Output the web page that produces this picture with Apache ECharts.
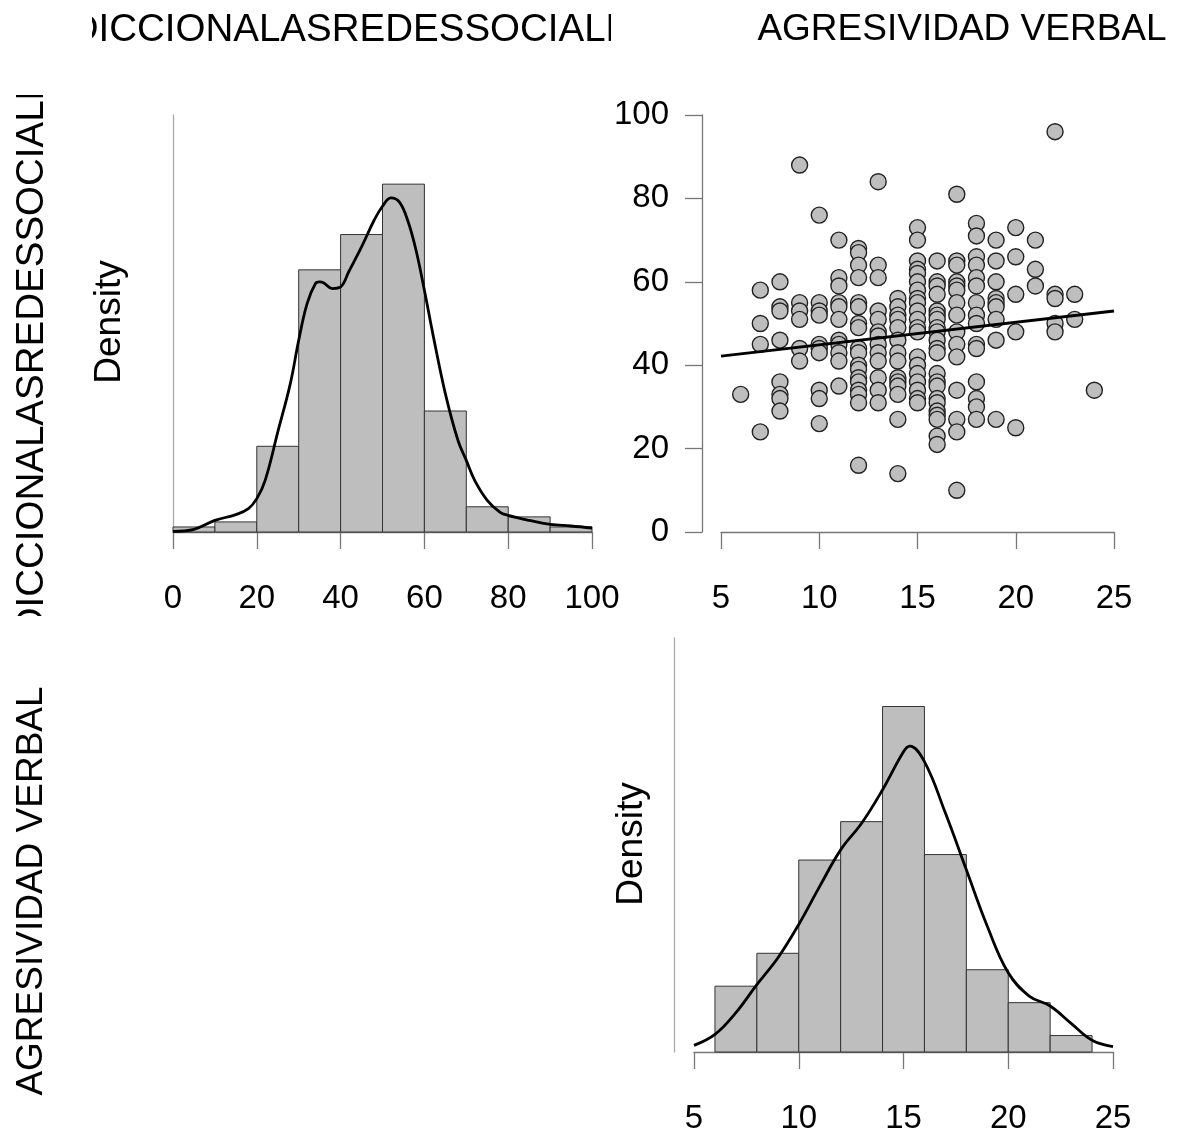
<!DOCTYPE html>
<html>
<head>
<meta charset="utf-8">
<script src="https://cdn.jsdelivr.net/npm/echarts@6/dist/echarts.min.js"></script>
<style>
  html, body { margin: 0; padding: 0; background: #fff; }
  #chart { width: 1184px; height: 1135px; }
</style>
</head>
<body>
<div id="chart"></div>
<script>
// histogram: ADICCIONALASREDESSOCIALES (counts per bin)
const adiccionBreaks = [0, 10, 20, 30, 40, 50, 60, 70, 80, 90, 100];
const adiccionCounts = [1, 2, 17, 52, 59, 69, 24, 5, 3, 1];
// density curve
const adiccionDensX = [0, 5, 10, 15, 18, 20, 22, 25, 28, 30, 32, 34, 35, 36, 38, 40, 42, 45, 48, 50, 52, 54, 56, 58, 60, 62, 65, 68, 70, 72, 75, 78, 80, 85, 90, 95, 100];
const adiccionDensY = [0.00006, 0.00023, 0.00099, 0.00148, 0.00199, 0.00284, 0.0044, 0.0085, 0.01263, 0.01632, 0.01944, 0.02115, 0.02129, 0.0212, 0.02072, 0.02086, 0.0222, 0.02427, 0.02654, 0.02773, 0.02844, 0.0281, 0.02654, 0.02399, 0.02058, 0.01689, 0.01178, 0.00781, 0.0061, 0.0044, 0.0027, 0.0017, 0.00142, 0.00099, 0.00065, 0.00051, 0.00034];

// histogram: AGRESIVIDAD VERBAL
const verbalBreaks = [6, 8, 10, 12, 14, 16, 18, 20, 22, 24];
const verbalCounts = [12, 18, 35, 42, 63, 36, 15, 9, 3];
const verbalDensX = [5, 6, 7, 8, 9, 10, 11, 12, 13, 14, 15, 15.3, 16, 17, 18, 19, 20, 21, 22, 23, 24, 25];
const verbalDensY = [0.0026, 0.0069, 0.0154, 0.0264, 0.0368, 0.0499, 0.0648, 0.0791, 0.0895, 0.1026, 0.1175, 0.1197, 0.1136, 0.0935, 0.0713, 0.0492, 0.031, 0.0219, 0.018, 0.0112, 0.0046, 0.0021];

// scatter: x = agresividad verbal, y = adiccion (one list per x value)
const scatterVerbal = [6, 7, 8, 9, 10, 11, 12, 13, 14, 15, 16, 17, 18, 19, 20, 21, 22, 23, 24];
const scatterAdiccion = [
  [33],
  [58, 50, 45, 24],
  [60, 54, 53, 46, 36, 33, 32, 29],
  [88, 55, 53, 51, 44, 41],
  [76, 55, 53, 52, 45, 44, 43, 34, 32, 26],
  [70, 61, 59, 55, 54, 51, 46, 45, 43, 41, 35],
  [68, 67, 64, 61, 55, 54, 50, 49, 44, 43, 40, 39, 37, 36, 34, 33, 31, 16],
  [84, 64, 61, 53, 51, 48, 47, 45, 43, 41, 37, 34, 31],
  [56, 54, 52, 51, 49, 46, 43, 41, 37, 36, 35, 33, 27, 14],
  [73, 70, 65, 63, 62, 60, 58, 56, 55, 53, 51, 49, 48, 42, 40, 38, 36, 34, 32, 31],
  [65, 60, 59, 57, 53, 52, 51, 49, 48, 46, 44, 43, 38, 36, 35, 32, 31, 29, 28, 27, 23, 21],
  [81, 65, 64, 60, 59, 58, 55, 52, 48, 45, 42, 34, 27, 24, 10],
  [74, 71, 66, 64, 61, 59, 55, 52, 50, 45, 44, 36, 32, 30, 27],
  [70, 65, 60, 56, 55, 54, 51, 46, 27],
  [73, 66, 57, 48, 25],
  [70, 63, 59],
  [96, 57, 56, 50, 48],
  [57, 51],
  [34]
];
// regression line end points
const fitX = [5, 25];
const fitY = [42.2, 53.0];

const FONT = "'Liberation Sans', Arial, sans-serif";
const total = adiccionCounts.reduce((a, b) => a + b, 0);

function histRows(breaks, counts) {
  return counts.map((c, i) => [breaks[i], breaks[i + 1], c / (total * (breaks[i + 1] - breaks[i]))]);
}
function zip(xs, ys) { return xs.map((x, i) => [x, ys[i]]); }

const scatterData = [];
scatterVerbal.forEach((x, i) => {
  scatterAdiccion[i].forEach(y => scatterData.push([x, y]));
});

function renderBar(params, api) {
  const p0 = api.coord([api.value(0), api.value(2)]);
  const p1 = api.coord([api.value(1), 0]);
  return {
    type: 'rect',
    shape: { x: p0[0], y: p0[1], width: p1[0] - p0[0], height: p1[1] - p0[1] },
    style: { fill: '#bebebe', stroke: '#333', lineWidth: 1 }
  };
}

function xAxisOf(gridIndex, min, max, interval) {
  return {
    type: 'value', gridIndex: gridIndex, min: min, max: max, interval: interval,
    offset: 20,
    axisLine: { show: true, lineStyle: { color: '#777', width: 1.3 } },
    axisTick: { show: true, length: 17, lineStyle: { color: '#777', width: 1.3 } },
    axisLabel: { fontSize: 33, color: '#000', fontFamily: FONT, margin: 30 },
    splitLine: { show: false }
  };
}

function densAxis(gridIndex, max) {
  return {
    type: 'value', gridIndex: gridIndex, min: 0, max: max, offset: 20,
    axisLine: { show: true, lineStyle: { color: '#aaa', width: 1.3 } },
    axisTick: { show: false }, axisLabel: { show: false }, splitLine: { show: false }
  };
}

const chart = echarts.init(document.getElementById('chart'), null, { renderer: 'canvas' });

const option = {
  backgroundColor: '#fff',
  animation: false,
  grid: [
    { left: 173, top: 115, width: 419, height: 417 },
    { left: 721, top: 115, width: 393, height: 417 },
    { left: 694, top: 638, width: 419, height: 415 }
  ],
  xAxis: [
    xAxisOf(0, 0, 100, 20),
    xAxisOf(1, 5, 25, 5),
    xAxisOf(2, 5, 25, 5)
  ],
  yAxis: [
    densAxis(0, 0.0355),
    {
      type: 'value', gridIndex: 1, min: 0, max: 100, interval: 20, offset: 19,
      axisLine: { show: true, lineStyle: { color: '#777', width: 1.3 } },
      axisTick: { show: true, length: 17, lineStyle: { color: '#777', width: 1.3 } },
      axisLabel: { fontSize: 33, color: '#000', fontFamily: FONT, margin: 33 },
      splitLine: { show: false }
    },
    densAxis(2, 0.162)
  ],
  series: [
    {
      type: 'custom', xAxisIndex: 0, yAxisIndex: 0,
      renderItem: renderBar, encode: { x: [0, 1], y: 2 },
      data: histRows(adiccionBreaks, adiccionCounts)
    },
    {
      type: 'line', xAxisIndex: 0, yAxisIndex: 0, smooth: 0.4, showSymbol: false,
      lineStyle: { color: '#000', width: 2.8 }, z: 5,
      data: zip(adiccionDensX, adiccionDensY)
    },
    {
      type: 'scatter', xAxisIndex: 1, yAxisIndex: 1, symbolSize: 16,
      itemStyle: { color: '#bebebe', borderColor: '#222', borderWidth: 1.4, opacity: 1 },
      data: scatterData
    },
    {
      type: 'line', xAxisIndex: 1, yAxisIndex: 1, showSymbol: false, z: 5,
      lineStyle: { color: '#000', width: 2.8 },
      data: zip(fitX, fitY)
    },
    {
      type: 'custom', xAxisIndex: 2, yAxisIndex: 2,
      renderItem: renderBar, encode: { x: [0, 1], y: 2 },
      data: histRows(verbalBreaks, verbalCounts)
    },
    {
      type: 'line', xAxisIndex: 2, yAxisIndex: 2, smooth: 0.4, showSymbol: false,
      lineStyle: { color: '#000', width: 2.8 }, z: 5,
      data: zip(verbalDensX, verbalDensY)
    }
  ],
  graphic: [
    // column / row headers
    { type: 'text', x: 351, y: 30, z: 10,
      style: { text: 'ADICCIONALASREDESSOCIALES', font: '38.5px ' + FONT, fill: '#000', textAlign: 'center', textVerticalAlign: 'middle' } },
    { type: 'text', x: 962, y: 30, z: 10,
      style: { text: 'AGRESIVIDAD VERBAL', font: '37px ' + FONT, fill: '#000', textAlign: 'center', textVerticalAlign: 'middle' } },
    { type: 'text', x: 32, y: 355, rotation: Math.PI / 2, z: 10,
      style: { text: 'ADICCIONALASREDESSOCIALES', font: '38.5px ' + FONT, fill: '#000', textAlign: 'center', textVerticalAlign: 'middle' } },
    { type: 'text', x: 32, y: 891, rotation: Math.PI / 2, z: 10,
      style: { text: 'AGRESIVIDAD VERBAL', font: '37px ' + FONT, fill: '#000', textAlign: 'center', textVerticalAlign: 'middle' } },
    // header cells clip their text
    { type: 'rect', z: 20, shape: { x: 0, y: 0, width: 92, height: 60 }, style: { fill: '#fff' } },
    { type: 'rect', z: 20, shape: { x: 611, y: 0, width: 129, height: 60 }, style: { fill: '#fff' } },
    { type: 'rect', z: 20, shape: { x: 0, y: 55, width: 70, height: 40 }, style: { fill: '#fff' } },
    { type: 'rect', z: 20, shape: { x: 0, y: 616, width: 70, height: 47 }, style: { fill: '#fff' } },
    // Density labels
    { type: 'text', x: 110, y: 322, rotation: Math.PI / 2, z: 10,
      style: { text: 'Density', font: '37px ' + FONT, fill: '#000', textAlign: 'center', textVerticalAlign: 'middle' } },
    { type: 'text', x: 632, y: 844, rotation: Math.PI / 2, z: 10,
      style: { text: 'Density', font: '37px ' + FONT, fill: '#000', textAlign: 'center', textVerticalAlign: 'middle' } }
  ]
};

chart.setOption(option);
</script>
</body>
</html>
